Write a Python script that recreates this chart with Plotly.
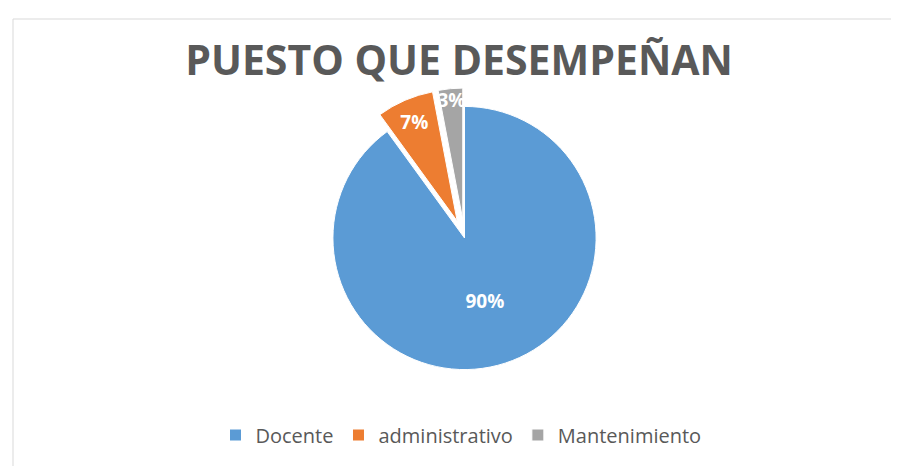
import plotly.graph_objects as go

labels = ["Docente", "administrativo", "Mantenimiento"]
values = [90, 7, 3]
colors = ["#5B9BD5", "#ED7D31", "#A5A5A5"]
pulls = [0, 0.14, 0.14]

W, H = 899, 466

fig = go.Figure()
fig.add_trace(go.Pie(
    labels=labels,
    values=values,
    sort=False,
    direction="clockwise",
    rotation=0,
    pull=pulls,
    marker=dict(colors=colors, line=dict(color="white", width=1)),
    textinfo="percent",
    texttemplate="<b>%{percent:.0%}</b>",
    textposition="inside",
    insidetextorientation="horizontal",
    textfont=dict(family="Open Sans", size=19, color="white"),
    domain=dict(x=[0.0156, 1], y=[1 - 380 / H, 1 - 80 / H]),
    showlegend=True,
))

fig.update_layout(
    width=W, height=H,
    margin=dict(l=0, r=0, t=0, b=0),
    paper_bgcolor="white",
    plot_bgcolor="white",
    uniformtext=dict(minsize=19, mode="show"),
    title=dict(
        text="<b>PUESTO QUE DESEMPEÑAN</b>",
        x=451 / W, xanchor="center",
        y=1 - 53 / H, yanchor="middle",
        font=dict(family="Open Sans", size=41, color="#595959"),
    ),
    legend=dict(
        orientation="h",
        x=453 / W, xanchor="center",
        y=1 - 427 / H, yanchor="middle",
        font=dict(family="Open Sans", size=20, color="#595959"),
        itemwidth=30,
        traceorder="normal",
    ),
    shapes=[
        dict(type="line", xref="paper", yref="paper",
             x0=5 / W, x1=1, y0=1 - 11 / H, y1=1 - 11 / H,
             line=dict(color="#D9D9D9", width=1)),
        dict(type="line", xref="paper", yref="paper",
             x0=5 / W, x1=5 / W, y0=1 - 11 / H, y1=0,
             line=dict(color="#D9D9D9", width=1)),
    ],
)

fig.write_html("out.html")
